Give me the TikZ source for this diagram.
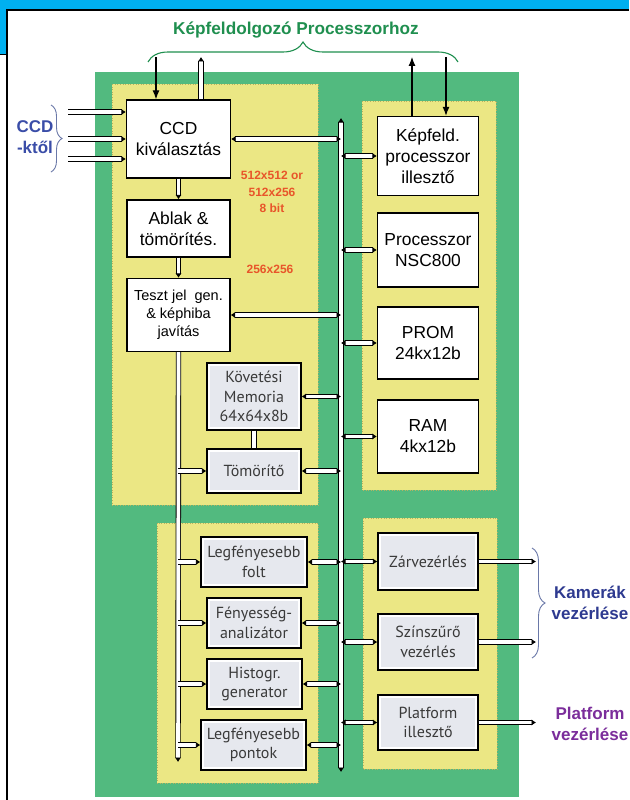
\documentclass[tikz,border=0pt]{standalone}
\usepackage{fontspec}
\setmainfont{Liberation Sans}
\newfontfamily\myr{PT Sans}
\usetikzlibrary{arrows.meta,decorations.pathreplacing}
\definecolor{bandblue}{HTML}{00B0F0}
\definecolor{pcbgreen}{HTML}{52BA7F}
\definecolor{pcbyellow}{HTML}{EBE784}
\definecolor{yborder}{HTML}{B8B060}
\definecolor{boxgray}{HTML}{E6E8EE}
\definecolor{titlegreen}{HTML}{1F8F4F}
\definecolor{redtxt}{HTML}{E8552A}
\definecolor{ccdblue}{HTML}{3A4DA8}
\definecolor{camblue}{HTML}{2E3A90}
\definecolor{platpurple}{HTML}{7B2D9B}
\definecolor{bracegray}{HTML}{6A78A8}
\definecolor{gtext}{HTML}{3A3A3A}
\begin{document}
\begin{tikzpicture}[x=1pt,y=-1pt,
  bx/.style={draw=black, line width=1.4pt, fill=white, inner sep=0pt, align=center,
     font=\fontsize{17.4}{21}\selectfont},
  gbx/.style={draw=black, line width=1.4pt, fill=white, inner sep=0pt, align=center,
     text=gtext, font=\myr\fontsize{16}{19.5}\selectfont,
     path picture={\fill[boxgray] ([shift={(3pt,-3pt)}]path picture bounding box.north west)
        rectangle ([shift={(-3pt,3pt)}]path picture bounding box.south east);}},
  bus/.style={draw=black, line width=0.9pt, double=white, double distance=3.6pt},
  tip/.tip={Latex[length=4.5pt,width=6.5pt]},
  sarrow/.style={draw=black, line width=1.1pt, -{Latex[length=9pt,width=7pt]}},
  yarea/.style={fill=pcbyellow, draw=yborder, dotted, line width=0.6pt},
  lbl/.style={font=\bfseries\fontsize{17}{21.5}\selectfont, align=center, inner sep=0pt},
  redlbl/.style={font=\bfseries\fontsize{12}{16.5}\selectfont, text=redtxt, align=center, inner sep=0pt}
]
\useasboundingbox (0,0) rectangle (629,800);
% slide background
\fill[bandblue] (0,0) rectangle (629,54);
\fill[white] (7,10) rectangle (629,800);
\draw[black, line width=1.2pt] (7,800) -- (7,10) -- (629,10);
\draw[black, line width=1pt] (0,55) -- (7,55);
% board
\fill[pcbgreen] (95,72) rectangle (519,797);
\path[yarea] (112,84) rectangle (318,505);
\path[yarea] (362,101) rectangle (496,490);
\path[yarea] (157,523) rectangle (318,783);
\path[yarea] (363,518) rectangle (497,769);

% buses (drawn under boxes)
\coordinate (busT) at (341,118);
\coordinate (busB) at (341,772);
\coordinate (lbusB) at (178,762);

% boxes
\node[bx, minimum width=104, minimum height=78] (ccd) at (178.5,139) {CCD\\kiválasztás};
\node[bx, minimum width=103, minimum height=57] (ablak) at (178.5,228.5) {Ablak \&\\tömörítés.};
\node[bx, minimum width=103, minimum height=73, font=\fontsize{14.5}{18}\selectfont] (teszt) at (178.5,315) {Teszt jel\ \ gen.\\\& képhiba\\javítás};
\node[bx, minimum width=101, minimum height=79] (kepf) at (428,156) {Képfeld.\\processzor\\illesztő};
\node[bx, minimum width=101, minimum height=74] (proc) at (428,250) {Processzor\\NSC800};
\node[bx, minimum width=101, minimum height=72] (prom) at (428,343) {PROM\\24kx12b};
\node[bx, minimum width=101, minimum height=73] (ram) at (428,436.5) {RAM\\4kx12b};
\node[gbx, minimum width=94, minimum height=67] (kov) at (254,396.5) {Követési\\Memoria\\64x64x8b};
\node[gbx, minimum width=94, minimum height=44] (tom) at (254,471) {Tömörítő};
\node[gbx, minimum width=106, minimum height=50] (lfolt) at (254,562) {Legfényesebb\\folt};
\node[gbx, minimum width=94, minimum height=50] (feny) at (254,623) {Fényesség-\\analizátor};
\node[gbx, minimum width=95, minimum height=50] (hist) at (254.5,684) {Histogr.\\generator};
\node[gbx, minimum width=105, minimum height=50] (lpont) at (253.5,745) {Legfényesebb\\pontok};
\node[gbx, minimum width=100, minimum height=57] (zar) at (428,561.5) {Zárvezérlés};
\node[gbx, minimum width=100, minimum height=56] (szin) at (428,642) {Színszűrő\\vezérlés};
\node[gbx, minimum width=100, minimum height=55] (plat) at (428,722.5) {Platform\\illesztő};

% central bus
\draw[bus, tip-tip] (busT) -- (busB);
% left bus
\draw[bus, -tip] (teszt.south) -- (lbusB);
% vertical chain
\draw[bus, -tip] (ccd.south) -- (ablak.north);
\draw[bus, -tip] (ablak.south) -- (teszt.north);
\draw[bus] (kov.south) -- (tom.north);

% CCD inputs
\coordinate (in1) at (68,112);
\coordinate (in2) at (68,139);
\coordinate (in3) at (68,159);
\draw[bus, -tip] (in1) -- (in1 -| ccd.west);
\draw[bus, -tip] (in2) -- (in2 -| ccd.west);
\draw[bus, -tip] (in3) -- (in3 -| ccd.west);

% top connections
\coordinate (t1) at (156,57);
\coordinate (t2) at (201,57);
\coordinate (t3) at (412,57);
\coordinate (t4) at (446,57);
\draw[sarrow] (t1) -- (t1 |- ccd.north);
\draw[bus, -tip] (t2 |- ccd.north) -- (t2);
\draw[sarrow] (t3 |- kepf.north) -- (t3);
\draw[sarrow] (t4) -- (t4 |- kepf.north);

% bus <-> boxes
\foreach \b in {ccd,teszt,kov,tom,lfolt,feny,hist,lpont} {
  \draw[bus, tip-tip] (\b.east) -- (\b.east -| busT);
}
\foreach \b in {kepf,proc,prom,ram,zar,szin,plat} {
  \draw[bus, tip-tip] (\b.west -| busT) -- (\b.west);
}
% left bus -> boxes
\foreach \b in {tom,lfolt,feny,hist,lpont} {
  \draw[bus, -tip] (\b.west -| lbusB) -- (\b.west);
}
% outputs
\coordinate (o1) at (536,561.5);
\coordinate (o2) at (536,642);
\coordinate (o3) at (536,722.5);
\draw[bus, -tip] (zar.east) -- (o1);
\draw[bus, -tip] (szin.east) -- (o2);
\draw[bus, -tip] (plat.east) -- (o3);

% labels
\node[font=\bfseries\fontsize{17.2}{20}\selectfont, text=titlegreen] (title) at (296,30) {Képfeldolgozó Processzorhoz};
\draw[titlegreen, line width=1.1pt, decorate, decoration={brace, amplitude=20pt}] (148,62) -- (458,62);

\node[lbl, text=ccdblue] (ccdlbl) at (35,137) {CCD\\-ktől};
\draw[bracegray, line width=0.9pt, decorate, decoration={brace, amplitude=11pt}] (51,105) -- (51,172);

\node[lbl, text=camblue] (camlbl) at (590,603) {Kamerák\\vezérlése};
\draw[bracegray, line width=0.9pt, decorate, decoration={brace, amplitude=13pt}] (532,548) -- (532,658);

\node[lbl, text=platpurple] (platlbl) at (590,724) {Platform\\vezérlése};

\node[redlbl] (res1) at (272,192) {512x512 or\\512x256\\8 bit};
\node[redlbl] (res2) at (270,269) {256x256};
\end{tikzpicture}
\end{document}
